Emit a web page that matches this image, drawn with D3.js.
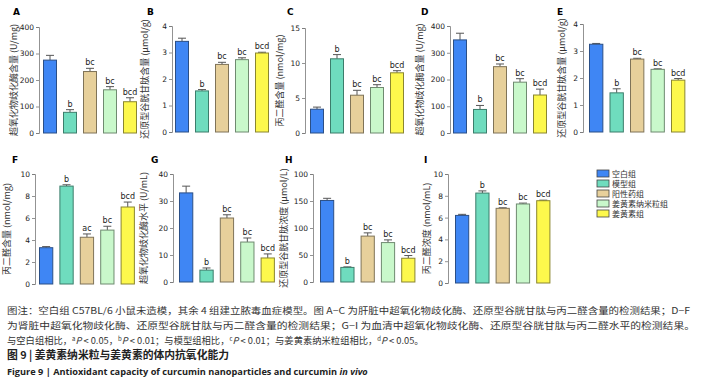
<!DOCTYPE html>
<html><head><meta charset="utf-8">
<script src="https://cdn.jsdelivr.net/npm/d3@7"></script>
<style>
body{margin:0;background:#fff;}
svg{display:block;}
</style></head>
<body>
<svg id="c" width="707" height="390"></svg>
<script>
// ---------------- DATA ----------------
const groups = ["空白组","模型组","阳性药组","姜黄素纳米粒组","姜黄素组"];
const panelIds = ["A","B","C","D","E","F","G","H","I"];
const yTitles = [
  "超氧化物歧化酶含量 (U/mg)",
  "还原型谷胱甘肽含量 (μmol/g)",
  "丙二醛含量 (nmol/mg)",
  "超氧化物歧化酶含量 (U/mg)",
  "还原型谷胱甘肽含量 (μmol/g)",
  "丙二醛含量 (nmol/mg)",
  "超氧化物歧化酶水平 (U/mL)",
  "还原型谷胱甘肽浓度 (μmol/L)",
  "丙二醛浓度 (nmol/mL)"
];
const valuesA = [275, 78, 232, 163, 118];
const errorsA = [18, 10, 12, 12, 15];
const valuesB = [3.42, 1.55, 2.55, 2.73, 2.98];
const errorsB = [0.12, 0.05, 0.08, 0.07, 0.03];
const valuesC = [3.4, 10.6, 5.4, 6.5, 8.6];
const errorsC = [0.3, 0.6, 0.7, 0.4, 0.3];
const valuesD = [348, 88, 248, 190, 142];
const errorsD = [25, 15, 10, 13, 22];
const valuesE = [3.25, 1.45, 2.70, 2.32, 1.92];
const errorsE = [0.03, 0.15, 0.03, 0.02, 0.06];
const valuesF = [3.3, 8.9, 4.25, 4.9, 7.0];
const errorsF = [0.1, 0.12, 0.3, 0.35, 0.45];
const valuesG = [33, 4.4, 23.7, 14.8, 8.9];
const errorsG = [2.5, 0.8, 1.2, 1.5, 1.5];
const valuesH = [151, 27, 85, 73, 44];
const errorsH = [4, 1, 6, 5, 5];
const valuesI = [6.2, 8.25, 6.85, 7.25, 7.55];
const errorsI = [0.1, 0.2, 0.05, 0.08, 0.05];
const sigA = ["", "b", "bc", "bc", "bcd"];
const sigF = ["", "b", "ac", "bc", "bcd"];
const ticksA = [0,100,200,300,400];
const ticksB = [0,1,2,3,4];
const ticksC = [0,5,10,15];
const ticksF = [0,2,4,6,8,10];
const ticksG = [0,10,20,30,40];
const ticksH = [0,50,100,150,200];
const tickLabelsA = ["0","100","200","300","400"];
const tickLabelsB = ["0","1","2","3","4"];
const tickLabelsC = ["0","5","10","15"];
const tickLabelsF = ["0","2","4","6","8","10"];
const tickLabelsG = ["0","10","20","30","40"];
const tickLabelsH = ["0","50","100","150","100"];

const panelData = [
  {v: valuesA, e: errorsA, s: sigA, t: ticksA, tl: tickLabelsA},
  {v: valuesB, e: errorsB, s: sigA, t: ticksB, tl: tickLabelsB},
  {v: valuesC, e: errorsC, s: sigA, t: ticksC, tl: tickLabelsC},
  {v: valuesD, e: errorsD, s: sigA, t: ticksA, tl: tickLabelsA},
  {v: valuesE, e: errorsE, s: sigA, t: ticksB, tl: tickLabelsB},
  {v: valuesF, e: errorsF, s: sigF, t: ticksF, tl: tickLabelsF},
  {v: valuesG, e: errorsG, s: sigA, t: ticksG, tl: tickLabelsG},
  {v: valuesH, e: errorsH, s: sigA, t: ticksH, tl: tickLabelsH},
  {v: valuesI, e: errorsI, s: sigA, t: ticksF, tl: tickLabelsF}
];

// ---------------- LAYOUT / STYLE ----------------
const colors = ["#3f86f4", "#6fdcbe", "#e7d09b", "#c9f8cb", "#fdf84c"];
const strokes = ["#2b4f86", "#3c7d6b", "#7f7358", "#6f8a70", "#8a8630"];
const layout = [
  {ax: 39,  bx: 43,  step: 20,   top: 27,  zero: 133, lab: 13,  ylx: 17,  ly: 15},
  {ax: 172, bx: 175, step: 20,   top: 26,  zero: 132, lab: 147, ylx: 148, ly: 15},
  {ax: 305, bx: 310, step: 20,   top: 28,  zero: 133, lab: 287, ylx: 283, ly: 15},
  {ax: 450, bx: 453, step: 20,   top: 26,  zero: 133, lab: 421, ylx: 423, ly: 15},
  {ax: 583, bx: 589, step: 20.5, top: 24,  zero: 132, lab: 557, ylx: 565, ly: 15},
  {ax: 35,  bx: 39,  step: 20.4, top: 174, zero: 284, lab: 12,  ylx: 10,  ly: 163},
  {ax: 173, bx: 179, step: 20.4, top: 174, zero: 282, lab: 151, ylx: 147, ly: 163},
  {ax: 313, bx: 320, step: 20.3, top: 174, zero: 282, lab: 285, ylx: 287, ly: 163},
  {ax: 448, bx: 455, step: 20.3, top: 174, zero: 283, lab: 424, ylx: 430, ly: 163}
];

const svg = d3.select("#c");
const tickFont = "'DejaVu Sans', Verdana, sans-serif";
const cjkFont = "'Noto Sans CJK SC', sans-serif";
const axisColor = "#777";

panelData.forEach((p, i) => {
  const L = layout[i];
  const g = svg.append("g");
  const x = d3.scaleBand().domain(groups)
    .range([L.bx, L.bx + L.step * (groups.length - 0.3)])
    .paddingInner(0.3).paddingOuter(0);
  const y = d3.scaleLinear().domain([0, d3.max(p.t)]).range([L.zero, L.top]);

  const ax = g.append("g").attr("transform", `translate(${L.ax},0)`)
    .call(d3.axisLeft(y).tickValues(p.t).tickSize(3).tickPadding(2)
      .tickFormat((d, k) => p.tl[k]));
  ax.select(".domain").attr("stroke", axisColor).attr("stroke-width", 0.8);
  ax.selectAll(".tick line").attr("stroke", axisColor).attr("stroke-width", 0.8);
  ax.selectAll(".tick text").attr("fill", "#222").style("font-family", tickFont).style("font-size", "7.5px");

  const rows = groups.map((gname, k) => ({g: gname, v: p.v[k], e: p.e[k], s: p.s[k], k}));
  const cap = 4;
  rows.forEach(r => {
    const cx = x(r.g) + x.bandwidth() / 2;
    g.append("line").attr("x1", cx).attr("x2", cx)
      .attr("y1", y(r.v)).attr("y2", y(r.v + r.e))
      .attr("stroke", "#555").attr("stroke-width", 1);
    g.append("line").attr("x1", cx - cap).attr("x2", cx + cap)
      .attr("y1", y(r.v + r.e)).attr("y2", y(r.v + r.e))
      .attr("stroke", "#555").attr("stroke-width", 1);
  });
  g.selectAll("rect.bar").data(rows).enter().append("rect")
    .attr("x", d => x(d.g) + 0.5).attr("y", d => y(d.v))
    .attr("width", x.bandwidth() - 1).attr("height", d => y(0) - y(d.v))
    .attr("fill", d => colors[d.k]).attr("stroke", d => strokes[d.k]).attr("stroke-width", 1);
  g.selectAll("text.sig").data(rows).enter().append("text")
    .attr("x", d => x(d.g) + x.bandwidth() / 2)
    .attr("y", d => y(d.v + d.e) - 3)
    .attr("text-anchor", "middle")
    .style("font-family", tickFont).style("font-size", "8px").attr("fill", "#222")
    .text(d => d.s);
  svg.append("text").attr("x", L.lab).attr("y", L.ly)
    .style("font-family", "'DejaVu Sans', sans-serif").style("font-weight", "bold").style("font-size", "9px")
    .text(panelIds[i]);
  svg.append("text")
    .attr("transform", `translate(${L.ylx},${(L.top + L.zero) / 2}) rotate(-90)`)
    .attr("text-anchor", "middle")
    .style("font-family", cjkFont).style("font-size", "9px").attr("fill", "#333")
    .text(yTitles[i]);
});

// legend
const lg = svg.append("g");
groups.forEach((gname, k) => {
  const yy = 170 + k * 10;
  lg.append("rect").attr("x", 597).attr("y", yy).attr("width", 12).attr("height", 7)
    .attr("fill", colors[k]).attr("stroke", "#444").attr("stroke-width", 0.8);
  lg.append("text").attr("x", 612).attr("y", yy + 7)
    .style("font-family", cjkFont).style("font-size", "8px").attr("fill", "#333")
    .text(gname);
});

// caption
const capFont = "8.6px";
svg.append("text").attr("x", 7).attr("y", 314)
  .style("font-family", cjkFont).style("font-size", capFont).attr("fill", "#333")
  .attr("textLength", 683).attr("lengthAdjust", "spacingAndGlyphs")
  .text("图注：空白组 C57BL/6 小鼠未造模，其余 4 组建立脓毒血症模型。图 A−C 为肝脏中超氧化物歧化酶、还原型谷胱甘肽与丙二醛含量的检测结果；D−F");
svg.append("text").attr("x", 7).attr("y", 329)
  .style("font-family", cjkFont).style("font-size", capFont).attr("fill", "#333")
  .attr("textLength", 688).attr("lengthAdjust", "spacingAndGlyphs")
  .text("为肾脏中超氧化物歧化酶、还原型谷胱甘肽与丙二醛含量的检测结果；G−I 为血清中超氧化物歧化酶、还原型谷胱甘肽与丙二醛水平的检测结果。");
const c3 = svg.append("text").attr("x", 7).attr("y", 344)
  .style("font-family", cjkFont).style("font-size", "9.3px").attr("fill", "#333");
const parts = [
  ["与空白组相比，", null], ["a", "sup"], ["P", "it"], [" < 0.05，", null],
  ["b", "sup"], ["P", "it"], [" < 0.01；与模型组相比，", null],
  ["c", "sup"], ["P", "it"], [" < 0.01；与姜黄素纳米粒组相比，", null],
  ["d", "sup"], ["P", "it"], [" < 0.05。", null]
];
parts.forEach(([t, kind]) => {
  const ts = c3.append("tspan").text(t);
  if (kind === "sup") ts.attr("dy", -3.5).style("font-size", "6px");
  if (kind === "it") ts.attr("dy", 3.5).style("font-style", "italic");
});
svg.append("text").attr("x", 7).attr("y", 359)
  .style("font-family", cjkFont).style("font-size", "10.8px").style("font-weight", "bold").attr("fill", "#222")
  .text("图 9 | 姜黄素纳米粒与姜黄素的体内抗氧化能力");
const f = svg.append("text").attr("x", 7).attr("y", 375)
  .style("font-family", "'Open Sans', 'Liberation Sans', sans-serif").style("font-size", "9.2px")
  .style("font-weight", "bold").attr("fill", "#222");
f.append("tspan").text("Figure 9 | Antioxidant capacity of curcumin nanoparticles and curcumin ");
f.append("tspan").style("font-style", "italic").text("in vivo");
</script>
</body></html>
